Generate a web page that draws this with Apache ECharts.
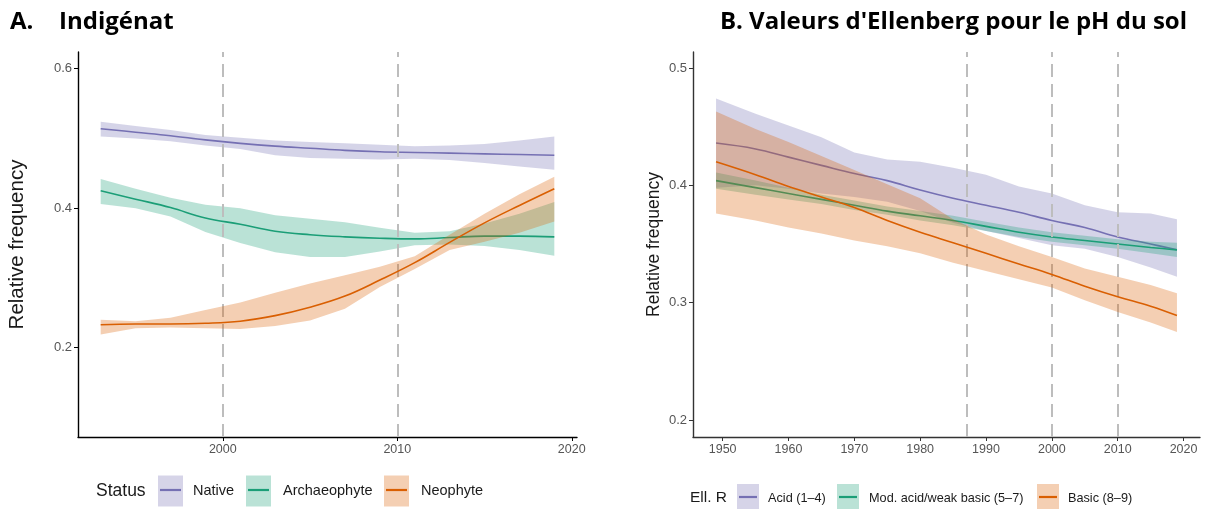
<!DOCTYPE html>
<html><head><meta charset="utf-8">
<script src="https://cdn.jsdelivr.net/npm/echarts@6/dist/echarts.min.js"></script>
<style>html,body{margin:0;padding:0;background:#fff}#c{width:1205px;height:509px}</style>
</head><body><div id="c"></div>
<script>
// ---------- Panel A data ----------
const yearsA = [1993, 1995, 1997, 1999, 2001, 2003, 2005, 2007, 2009, 2011, 2013, 2015, 2017, 2019];
const nativeFit = [0.514, 0.509, 0.504, 0.498, 0.493, 0.489, 0.486, 0.483, 0.481, 0.480, 0.479, 0.478, 0.477, 0.476];
const nativeLo  = [0.503, 0.500, 0.496, 0.490, 0.485, 0.476, 0.472, 0.471, 0.470, 0.471, 0.469, 0.465, 0.460, 0.455];
const nativeHi  = [0.524, 0.518, 0.512, 0.505, 0.501, 0.497, 0.495, 0.493, 0.491, 0.489, 0.490, 0.492, 0.497, 0.503];
const archFit = [0.425, 0.413, 0.401, 0.386, 0.377, 0.367, 0.362, 0.359, 0.357, 0.356, 0.358, 0.360, 0.360, 0.359];
const archLo  = [0.406, 0.400, 0.388, 0.366, 0.350, 0.337, 0.330, 0.330, 0.338, 0.347, 0.348, 0.346, 0.340, 0.332];
const archHi  = [0.442, 0.428, 0.415, 0.405, 0.400, 0.390, 0.385, 0.380, 0.372, 0.365, 0.367, 0.378, 0.392, 0.409];
const neoFit = [0.233, 0.234, 0.234, 0.235, 0.238, 0.246, 0.258, 0.274, 0.297, 0.322, 0.351, 0.379, 0.404, 0.428];
const neoLo  = [0.219, 0.228, 0.229, 0.228, 0.227, 0.231, 0.239, 0.256, 0.287, 0.313, 0.340, 0.352, 0.365, 0.381];
const neoHi  = [0.240, 0.238, 0.243, 0.254, 0.265, 0.279, 0.292, 0.304, 0.316, 0.331, 0.362, 0.392, 0.420, 0.445];
const vlinesA = [2000, 2010];
const xTicksA = [2000, 2010, 2020];
const yTicksA = [0.2, 0.4, 0.6];
const legendA = ['Native', 'Archaeophyte', 'Neophyte'];

// ---------- Panel B data ----------
const yearsB = [1949, 1955, 1960, 1965, 1970, 1975, 1980, 1985, 1990, 1995, 2000, 2005, 2010, 2015, 2019];
const acidFit = [0.436, 0.431, 0.424, 0.417, 0.410, 0.404, 0.396, 0.389, 0.383, 0.377, 0.370, 0.364, 0.356, 0.350, 0.345];
const acidLo  = [0.398, 0.400, 0.397, 0.393, 0.390, 0.386, 0.378, 0.368, 0.361, 0.355, 0.349, 0.346, 0.339, 0.330, 0.322];
const acidHi  = [0.474, 0.461, 0.451, 0.441, 0.428, 0.422, 0.420, 0.415, 0.409, 0.399, 0.393, 0.383, 0.377, 0.376, 0.371];
const modFit = [0.404, 0.398, 0.393, 0.388, 0.383, 0.378, 0.374, 0.370, 0.365, 0.360, 0.356, 0.353, 0.350, 0.347, 0.345];
const modLo  = [0.397, 0.392, 0.388, 0.384, 0.379, 0.375, 0.370, 0.366, 0.361, 0.356, 0.352, 0.349, 0.346, 0.342, 0.339];
const modHi  = [0.411, 0.404, 0.398, 0.392, 0.387, 0.382, 0.378, 0.374, 0.369, 0.364, 0.360, 0.357, 0.354, 0.352, 0.351];
const basicFit = [0.420, 0.409, 0.399, 0.390, 0.381, 0.370, 0.360, 0.351, 0.342, 0.333, 0.324, 0.314, 0.305, 0.297, 0.289];
const basicLo  = [0.376, 0.370, 0.364, 0.359, 0.353, 0.348, 0.342, 0.334, 0.327, 0.320, 0.313, 0.302, 0.292, 0.283, 0.275];
const basicHi  = [0.463, 0.448, 0.437, 0.425, 0.413, 0.401, 0.389, 0.371, 0.358, 0.348, 0.339, 0.329, 0.322, 0.315, 0.308];
const vlinesB = [1987, 2000, 2010];
const xTicksB = [1950, 1960, 1970, 1980, 1990, 2000, 2010, 2020];
const yTicksB = [0.2, 0.3, 0.4, 0.5];
const legendB = ['Acid (1–4)', 'Mod. acid/weak basic (5–7)', 'Basic (8–9)'];

const COLORS = ['#7570B3', '#1B9E77', '#D95F02'];
const FILLS = ['rgba(117,112,179,0.3)', 'rgba(27,158,119,0.3)', 'rgba(217,95,2,0.3)'];
const FILLS_SOLID = ['#D6D4E8', '#BAE2D6', '#F4CFB3'];
const FONT = '"Liberation Sans", Arial, sans-serif';

function ribbon(gi, years, lo, hi, ci, z) {
  return {
    type: 'custom', xAxisIndex: gi, yAxisIndex: gi, z: z, silent: true, clip: true,
    data: years.map((y, i) => [y, lo[i], hi[i]]),
    encode: { x: 0, y: [1, 2] },
    renderItem: function (params, api) {
      if (params.dataIndex !== 0) return null;
      const pts = [];
      for (let i = 0; i < years.length; i++) pts.push(api.coord([years[i], hi[i]]));
      for (let i = years.length - 1; i >= 0; i--) pts.push(api.coord([years[i], lo[i]]));
      return { type: 'polygon', shape: { points: pts }, style: { fill: FILLS[ci], stroke: null } };
    }
  };
}
function line(gi, years, vals, ci, z) {
  return {
    type: 'line', xAxisIndex: gi, yAxisIndex: gi, z: z, silent: true,
    data: years.map((y, i) => [y, vals[i]]), smooth: 0.4, symbol: 'none',
    lineStyle: { color: COLORS[ci], width: 1.6 }
  };
}
function vlineSeries(gi, xs) {
  return {
    type: 'line', xAxisIndex: gi, yAxisIndex: gi, z: 10, silent: true, data: [],
    markLine: {
      silent: true, symbol: 'none', label: { show: false }, animation: false,
      lineStyle: { color: '#BDBDBD', width: 2, type: [13, 7] },
      data: xs.map(x => ({ xAxis: x }))
    }
  };
}
function xAxis(gi, min, max, ticks, color) {
  return {
    type: 'value', gridIndex: gi, min: min, max: max,
    splitLine: { show: false },
    axisLine: { show: true, lineStyle: { color: color, width: 1.4 } },
    axisTick: { show: true, length: 4, customValues: ticks, lineStyle: { color: color, width: 1 } },
    axisLabel: { customValues: ticks, color: '#555555', fontSize: 12.5, fontFamily: FONT, margin: 6, formatter: v => String(v) }
  };
}
function yAxis(gi, min, max, ticks, color, nameSize, nameGap) {
  return {
    type: 'value', gridIndex: gi, min: min, max: max,
    splitLine: { show: false },
    axisLine: { show: true, lineStyle: { color: color, width: 1.4 } },
    axisTick: { show: true, length: 4, customValues: ticks, lineStyle: { color: color, width: 1 } },
    axisLabel: { customValues: ticks, color: '#555555', fontSize: 13, fontFamily: FONT, margin: 6, formatter: v => String(v) },
    name: 'Relative frequency', nameLocation: 'middle', nameGap: nameGap, nameRotate: 90,
    nameTextStyle: { color: '#1a1a1a', fontSize: nameSize, fontFamily: FONT }
  };
}

function legendGraphics(title, titleX, titleSize, cy, keys, keyW, keyH, labels, labelSize) {
  const els = [{ type: 'text', x: titleX, y: cy, style: { text: title, fill: '#1a1a1a', font: titleSize + 'px ' + FONT, textVerticalAlign: 'middle' } }];
  keys.forEach((k, i) => {
    els.push({ type: 'rect', shape: { x: k, y: cy - keyH / 2, width: keyW, height: keyH }, style: { fill: FILLS_SOLID[i] } });
    els.push({ type: 'line', shape: { x1: k + 2, y1: cy - 1, x2: k + keyW - 2, y2: cy - 1 }, style: { stroke: COLORS[i], lineWidth: 2.2 } });
    els.push({ type: 'text', x: labels[i].x, y: cy, style: { text: labels[i].t, fill: '#1a1a1a', font: labelSize + 'px ' + FONT, textVerticalAlign: 'middle' } });
  });
  return els;
}

const chart = echarts.init(document.getElementById('c'), null, { renderer: 'canvas' });
const option = {
  animation: false,
  backgroundColor: '#ffffff',
  grid: [
    { left: 78, top: 52, width: 499, height: 385 },
    { left: 693, top: 52, width: 507, height: 385 }
  ],
  xAxis: [xAxis(0, 1991.7, 2020.3, xTicksA, '#000000'), xAxis(1, 1945.5, 2022.5, xTicksB, '#333333')],
  yAxis: [yAxis(0, 0.072, 0.624, yTicksA, '#000000', 20.5, 50), yAxis(1, 0.1855, 0.5136, yTicksB, '#333333', 17.5, 30)],
  series: [
    ribbon(0, yearsA, nativeLo, nativeHi, 0, 1), line(0, yearsA, nativeFit, 0, 2),
    ribbon(0, yearsA, archLo, archHi, 1, 3), line(0, yearsA, archFit, 1, 4),
    ribbon(0, yearsA, neoLo, neoHi, 2, 5), line(0, yearsA, neoFit, 2, 6),
    vlineSeries(0, vlinesA),
    ribbon(1, yearsB, acidLo, acidHi, 0, 1), line(1, yearsB, acidFit, 0, 2),
    ribbon(1, yearsB, modLo, modHi, 1, 3), line(1, yearsB, modFit, 1, 4),
    ribbon(1, yearsB, basicLo, basicHi, 2, 5), line(1, yearsB, basicFit, 2, 6),
    vlineSeries(1, vlinesB)
  ],
  graphic: [
    { type: 'text', x: 10, y: 22, style: { text: 'A.', fill: '#000', font: 'bold 24px "Open Sans", sans-serif', textVerticalAlign: 'middle' } },
    { type: 'text', x: 59, y: 22, style: { text: 'Indigénat', fill: '#000', font: 'bold 24px "Open Sans", sans-serif', textVerticalAlign: 'middle' } },
    { type: 'text', x: 1187, y: 22, style: { text: "B. Valeurs d'Ellenberg pour le pH du sol", fill: '#000', font: 'bold 24px "Open Sans", sans-serif', textVerticalAlign: 'middle', textAlign: 'right' } }
  ].concat(
    legendGraphics('Status', 96, 17.5, 491, [158, 246, 384], 25, 31,
      [{ x: 193, t: legendA[0] }, { x: 283, t: legendA[1] }, { x: 421, t: legendA[2] }], 14.5),
    legendGraphics('Ell. R', 690, 15.5, 498, [737, 837, 1037], 22, 28,
      [{ x: 768, t: legendB[0] }, { x: 869, t: legendB[1] }, { x: 1068, t: legendB[2] }], 12.7)
  )
};
chart.setOption(option);
</script></body></html>
